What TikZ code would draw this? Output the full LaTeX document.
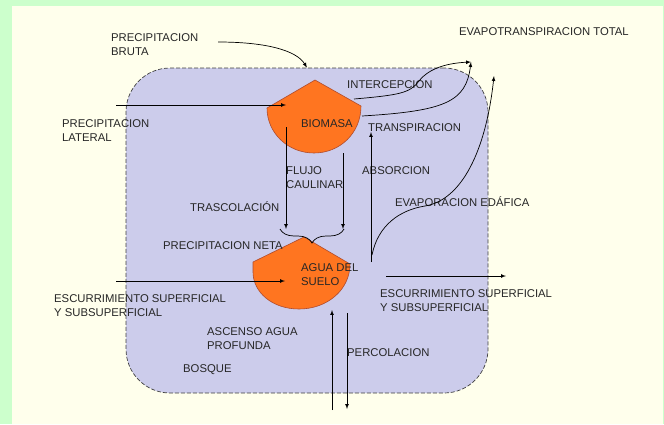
\documentclass[tikz,border=0pt]{standalone}
\usepackage{fontspec}
\setmainfont{Liberation Sans}
\usetikzlibrary{arrows, decorations.pathreplacing}

\definecolor{frameGreen}{RGB}{204,255,204}
\definecolor{paper}{RGB}{255,255,236}
\definecolor{forest}{RGB}{204,204,235}
\definecolor{poolOrange}{RGB}{255,117,32}
\definecolor{poolEdge}{RGB}{175,75,45}

\tikzstyle{lbl} = [font=\fontsize{11.3}{14.5}\selectfont,
anchor=base west,
inner sep=0pt,
align=left,
text=black!85]
\tikzstyle{pool} = [fill=poolOrange,
draw=poolEdge,
line width=0.6pt]
\tikzstyle{arrow} = [->,>=latex, line width=0.7pt]
\tikzstyle{line} = [line width=0.7pt]

\begin{document}
\begin{tikzpicture}[x=1pt, y=-1pt]
    \useasboundingbox (0,0) rectangle (664,424);
    \fill [frameGreen] (0,0) rectangle (664,424);
    \fill [paper] (12,6) rectangle (663,424);

    % the forest box
    \node (bosqueBox) [rectangle, rounded corners=44pt, dashed, dash pattern=on 4pt off 2pt,
        draw=black!75, line width=0.7pt, fill=forest,
        minimum width=362pt, minimum height=325pt] at (307,230.5) {};

    % the two stores
    \draw [pool] (267,108) -- (315,80) -- (361,106) .. controls (361,133) and (340,153) .. (314,153)
        .. controls (288,153) and (267,133) .. cycle;
    \draw [pool] (253,262) -- (304,237) -- (350,264) .. controls (350,290) and (327,309) .. (299,309)
        .. controls (272,309) and (253,292) .. (253,272) -- cycle;

    % labels (two-line labels sit on their last line)
    \node (bruta) [lbl] at (111,55.5) {PRECIPITACION\\BRUTA};
    \node (evapo) [lbl] at (459,35) {EVAPOTRANSPIRACION TOTAL};
    \node (intercep) [lbl] at (347,88) {INTERCEPCION};
    \node (lateral) [lbl] at (62,141.5) {PRECIPITACION\\LATERAL};
    \node (biomasa) [lbl] at (301,127) {BIOMASA};
    \node (transp) [lbl] at (368,131) {TRANSPIRACION};
    \node (flujo) [lbl] at (286,188.5) {FLUJO\\CAULINAR};
    \node (absorc) [lbl] at (362,174) {ABSORCION};
    \node (trasc) [lbl] at (190,211) {TRASCOLACIÓN};
    \node (evapsuelo) [lbl] at (395,206) {EVAPORACION EDÁFICA};
    \node (neta) [lbl] at (163,249) {PRECIPITACION NETA};
    \node (agua) [lbl] at (301,285.5) {AGUA DEL\\SUELO};
    \node (escizq) [lbl] at (54,316.5) {ESCURRIMIENTO SUPERFICIAL\\Y SUBSUPERFICIAL};
    \node (escder) [lbl] at (380,311.5) {ESCURRIMIENTO SUPERFICIAL\\Y SUBSUPERFICIAL};
    \node (ascenso) [lbl] at (207,349.5) {ASCENSO AGUA\\PROFUNDA};
    \node (bosque) [lbl] at (183,372) {BOSQUE};
    \node (percol) [lbl] at (347,356) {PERCOLACION};

    % free ends of the flows
    \coordinate (brutaIn) at (218,42);
    \coordinate (latIn) at (116,105);
    \coordinate (latOut) at (286,105);
    \coordinate (etTotal) at (471,62);
    \coordinate (interIn) at (354,99);
    \coordinate (transIn) at (362,116);
    \coordinate (trascIn) at (286,127);
    \coordinate (flujoIn) at (343,153);
    \coordinate (braceL) at (280,229);
    \coordinate (braceR) at (344,229);
    \coordinate (absIn) at (371,262);
    \coordinate (absOut) at (371,132);
    \coordinate (evsIn) at (372,255);
    \coordinate (evsOut) at (494,76);
    \coordinate (escIn) at (116,281);
    \coordinate (escInEnd) at (285,281);
    \coordinate (escOut) at (386,276);
    \coordinate (escOutEnd) at (506,276);
    \coordinate (ascIn) at (332,410);
    \coordinate (ascOut) at (332,310);
    \coordinate (percIn) at (347,313);
    \coordinate (percOut) at (347,409);

    \draw [arrow] (brutaIn) .. controls (265,42) and (296,50) .. (bosqueBox.north);
    \draw [arrow] (latIn) -- (latOut);
    \draw [arrow] (interIn) .. controls (400,95) and (410,93) .. (419,81)
        .. controls (430,67) and (450,63) .. (etTotal);
    \draw [arrow] (transIn) .. controls (445,111) and (466,102) .. (etTotal);
    \draw [arrow] (trascIn) -- (trascIn |- braceL);
    \draw [arrow] (flujoIn) -- (flujoIn |- braceR);
    \draw [line, decorate, decoration={brace, mirror, amplitude=14pt}] (braceL) -- (braceR);
    \draw [arrow] (absIn) -- (absOut);
    \draw [arrow] (evsIn) .. controls (378,225) and (400,210) .. (425,206)
        .. controls (462,200) and (486,150) .. (evsOut);
    \draw [arrow] (escIn) -- (escInEnd);
    \draw [arrow] (escOut) -- (escOutEnd);
    \draw [arrow] (ascIn) -- (ascOut);
    \draw [arrow] (percIn) -- (percOut);
\end{tikzpicture}
\end{document}
